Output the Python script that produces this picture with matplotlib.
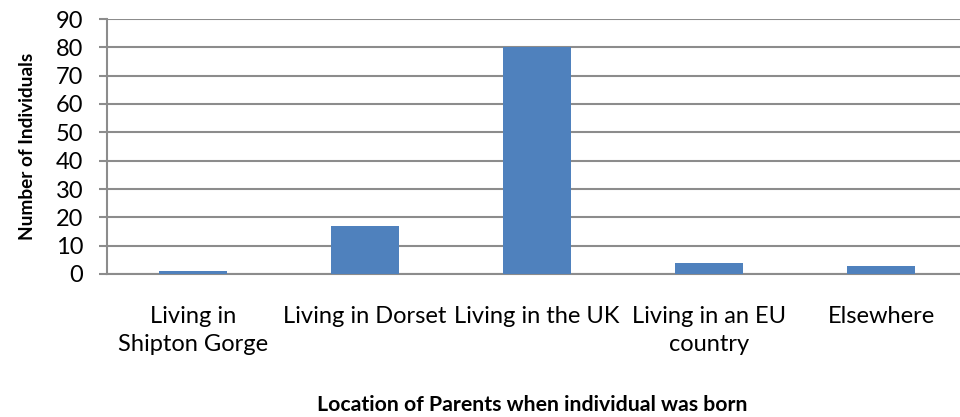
import matplotlib.pyplot as plt
import numpy as np

plt.rcParams['font.family'] = ['Lato', 'DejaVu Sans']

categories = ['Living in\nShipton Gorge', 'Living in Dorset', 'Living in the UK',
              'Living in an EU\ncountry', 'Elsewhere']
counts = [1, 17, 80, 4, 3]
yticks = [0, 10, 20, 30, 40, 50, 60, 70, 80, 90]

fig = plt.figure(figsize=(9.6, 4.17), dpi=100)
# axes runs a little past the right edge, like the original crop
ax = fig.add_axes([107/960, 1 - 274/417, 860/960, 255/417])

x = np.arange(len(categories))
ax.bar(x, counts, width=0.4, color='#4F81BD', zorder=3)

ax.set_xlim(-0.5, len(categories) - 0.5)
ax.set_ylim(0, 90)
ax.set_yticks(yticks)
ax.yaxis.grid(True, color='#8c8c8c', linewidth=1.5, zorder=0)

ax.set_xticks(x)
ax.set_xticklabels(categories, fontsize=17, linespacing=1.4)
ax.tick_params(axis='x', length=0, pad=23)
ax.tick_params(axis='y', labelsize=17, length=6, width=1.5, color='#8c8c8c', pad=11)

for s in ['top', 'right']:
    ax.spines[s].set_visible(False)
for s in ['left', 'bottom']:
    ax.spines[s].set_color('#8c8c8c')
    ax.spines[s].set_linewidth(1.5)

ax.set_ylabel('Number of Individuals', fontsize=13.7, fontweight='bold', labelpad=14)
fig.text(532/960, 1 - 405/417, 'Location of Parents when individual was born',
         fontsize=15.3, fontweight='bold', ha='center', va='center')

fig.savefig('out.png', dpi=100)
